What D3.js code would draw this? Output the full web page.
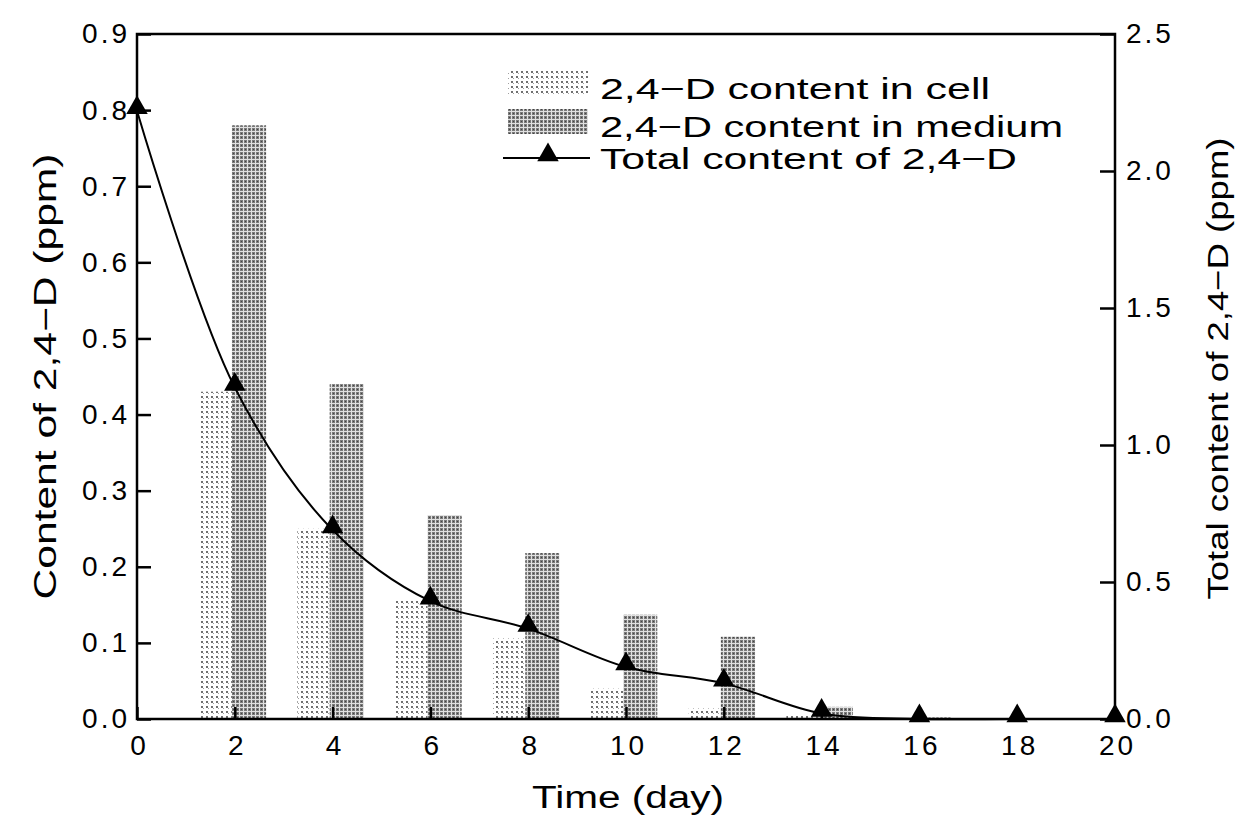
<!DOCTYPE html>
<html><head><meta charset="utf-8">
<script src="https://cdn.jsdelivr.net/npm/d3@7"></script>
<style>body{margin:0;background:#fff}svg{display:block}text{font-family:"Liberation Sans",Arial,sans-serif;fill:#000}</style>
</head><body><svg id="c" width="1239" height="822"></svg>
<script>
const days = [0, 2, 4, 6, 8, 10, 12, 14, 16, 18, 20];
const cellContent = [0, 0.43, 0.25, 0.156, 0.106, 0.04, 0.014, 0.004, 0.001, 0, 0];
const mediumContent = [0, 0.78, 0.44, 0.268, 0.218, 0.137, 0.108, 0.016, 0.002, 0, 0];
const totalContent = [2.22, 1.21, 0.69, 0.43, 0.33, 0.19, 0.13, 0.02, 0, 0, 0];
const xTicks = [0, 2, 4, 6, 8, 10, 12, 14, 16, 18, 20];
const leftTicks = [0, 0.1, 0.2, 0.3, 0.4, 0.5, 0.6, 0.7, 0.8, 0.9];
const rightTicks = [0, 0.5, 1.0, 1.5, 2.0, 2.5];
const legendLabels = ["2,4\u2212D content in cell", "2,4\u2212D content in medium", "Total content of 2,4\u2212D"];

const svg = d3.select("#c");
const m = {l: 137, r: 1115, t: 34, b: 719};
const x = d3.scaleLinear().domain([0, 20]).range([m.l, m.r]);
const yL = d3.scaleLinear().domain([0, 0.9]).range([m.b, m.t]);
const yR = d3.scaleLinear().domain([0, 2.5]).range([m.b, m.t]);

const defs = svg.append("defs");
const pc = defs.append("pattern").attr("id", "pCell").attr("patternUnits", "userSpaceOnUse").attr("width", 5).attr("height", 5);
pc.append("rect").attr("width", 5).attr("height", 5).attr("fill", "#fff");
pc.append("rect").attr("x", 1).attr("y", 1).attr("width", 2).attr("height", 2).attr("fill", "#707070");
pc.append("rect").attr("x", 3).attr("y", 3).attr("width", 1).attr("height", 1).attr("fill", "#a0a0a0");
const pm = defs.append("pattern").attr("id", "pMed").attr("patternUnits", "userSpaceOnUse").attr("width", 4).attr("height", 4);
pm.append("rect").attr("width", 4).attr("height", 4).attr("fill", "#e0e0e0");
pm.append("rect").attr("x", 0).attr("y", 0).attr("width", 3).attr("height", 3).attr("fill", "#7a7a7a");
pm.append("rect").attr("x", 1).attr("y", 1).attr("width", 1).attr("height", 1).attr("fill", "#444");

// bars
const data = days.map((d, i) => ({d, c: cellContent[i], md: mediumContent[i], t: totalContent[i]}));
svg.append("g").selectAll("rect").data(data.filter(d => d.c > 0)).join("rect")
  .attr("x", d => x(d.d - 0.72)).attr("width", d => x(d.d - 0.02) - x(d.d - 0.72))
  .attr("y", d => yL(d.c)).attr("height", d => yL(0) - yL(d.c)).attr("fill", "url(#pCell)");
svg.append("g").selectAll("rect").data(data.filter(d => d.md > 0)).join("rect")
  .attr("x", d => x(d.d - 0.06)).attr("width", d => x(d.d + 0.64) - x(d.d - 0.06))
  .attr("y", d => yL(d.md)).attr("height", d => yL(0) - yL(d.md)).attr("fill", "url(#pMed)");

// axes
const gx = svg.append("g").attr("transform", `translate(0,${m.b})`)
  .call(d3.axisBottom(x).tickValues(xTicks).tickSize(-12).tickPadding(12).tickFormat(d3.format("d")));
const gl = svg.append("g").attr("transform", `translate(${m.l},0)`)
  .call(d3.axisLeft(yL).tickValues(leftTicks).tickSize(-14).tickPadding(7).tickFormat(d3.format(".1f")));
const gr = svg.append("g").attr("transform", `translate(${m.r},0)`)
  .call(d3.axisRight(yR).tickValues(rightTicks).tickSize(-15).tickPadding(11).tickFormat(d3.format(".1f")));
[gx, gl, gr].forEach(g => {
  g.select(".domain").remove();
  g.selectAll(".tick line").attr("stroke", "#000").attr("stroke-width", 2.5);
  g.selectAll(".tick text").style("font-size", "28px").style("letter-spacing", "3px").attr("fill", "#000")
    .style("font-family", "'Liberation Sans', Arial, sans-serif");
});
gx.selectAll(".tick text").attr("dy", "0.85em").attr("dx", "2px");

// frame
svg.append("rect").attr("x", m.l).attr("y", m.t).attr("width", m.r - m.l).attr("height", m.b - m.t)
  .attr("fill", "none").attr("stroke", "#000").attr("stroke-width", 2.5);

// total line
const line = d3.line().x(d => x(d.d)).y(d => yR(d.t)).curve(d3.curveCatmullRom.alpha(0.5));
svg.append("path").datum(data).attr("d", line).attr("fill", "none").attr("stroke", "#000").attr("stroke-width", 2);
const tri = d3.symbol().type(d3.symbolTriangle).size(200);
svg.append("g").selectAll("path").data(data).join("path")
  .attr("d", tri).attr("transform", d => `translate(${x(d.d)},${yR(d.t) - 3})`).attr("fill", "#000");

// axis titles
svg.append("text").attr("transform", `translate(${x(10) + 2},808)`).attr("text-anchor", "middle")
  .style("font-size", "31px").attr("textLength", 192).attr("lengthAdjust", "spacingAndGlyphs").text("Time (day)");
svg.append("text").attr("transform", `translate(56,${(m.t + m.b) / 2}) rotate(-90)`).attr("text-anchor", "middle")
  .style("font-size", "31px").attr("textLength", 446).attr("lengthAdjust", "spacingAndGlyphs").text("Content of 2,4\u2212D (ppm)");
svg.append("text").attr("transform", `translate(1228,${(m.t + m.b) / 2 - 8}) rotate(-90)`).attr("text-anchor", "middle")
  .style("font-size", "29px").attr("textLength", 462).attr("lengthAdjust", "spacingAndGlyphs").text("Total content of 2,4\u2212D (ppm)");

// legend
const lg = svg.append("g");
const lens = [390, 463, 417];
const ys = [88, 126, 158];
lg.append("rect").attr("x", 508).attr("y", ys[0] - 17).attr("width", 80).attr("height", 25).attr("fill", "url(#pCell)");
lg.append("rect").attr("x", 508).attr("y", ys[1] - 17).attr("width", 80).attr("height", 25).attr("fill", "url(#pMed)");
lg.append("line").attr("x1", 503).attr("x2", 590).attr("y1", ys[2]).attr("y2", ys[2]).attr("stroke", "#000").attr("stroke-width", 2);
lg.append("path").attr("d", tri).attr("transform", `translate(548,${ys[2] - 3})`).attr("fill", "#000");
legendLabels.forEach((t, i) => {
  lg.append("text").attr("x", 600).attr("y", ys[i] + 11).style("font-size", "30px")
    .attr("textLength", lens[i]).attr("lengthAdjust", "spacingAndGlyphs").text(t);
});
</script></body></html>
